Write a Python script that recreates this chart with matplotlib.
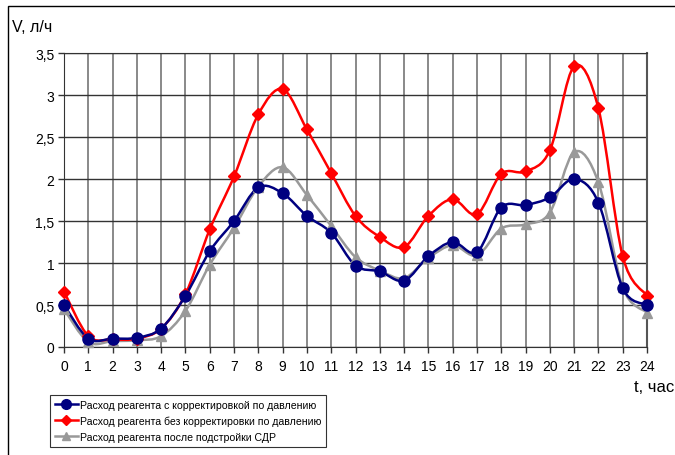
import matplotlib
matplotlib.use('Agg')
import matplotlib.pyplot as plt
from matplotlib.path import Path
from matplotlib.patches import PathPatch, Rectangle
from matplotlib.lines import Line2D
import numpy as np

plt.rcParams['font.family'] = ['Liberation Sans', 'DejaVu Sans']

hours = list(range(25))
blue = [0.5, 0.1, 0.1, 0.11, 0.22, 0.61, 1.14, 1.5, 1.9, 1.83, 1.56, 1.36, 0.97,
        0.9, 0.79, 1.08, 1.25, 1.13, 1.66, 1.69, 1.78, 2.0, 1.72, 0.7, 0.5]
red = [0.66, 0.13, 0.09, 0.1, 0.22, 0.63, 1.4, 2.03, 2.77, 3.07, 2.59, 2.07, 1.56,
       1.31, 1.19, 1.56, 1.76, 1.58, 2.06, 2.09, 2.34, 3.34, 2.84, 1.08, 0.61]
gray = [0.45, 0.06, 0.07, 0.08, 0.13, 0.43, 0.98, 1.42, 1.91, 2.14, 1.81, 1.44, 1.07,
        0.91, 0.82, 1.06, 1.21, 1.09, 1.41, 1.46, 1.6, 2.32, 1.96, 0.71, 0.41]
labels = ['Расход реагента с корректировкой по давлению',
          'Расход реагента без корректировки по давлению',
          'Расход реагента после подстройки СДР']
colors = ['#000080', '#ff0000', '#999999']
markers = ['o', 'D', '^']
msizes = [8, 6, 7]


def smooth_path(x, y):
    # excel-like smoothing: cubic bezier segments through the points
    x = np.asarray(x, float)
    y = np.asarray(y, float)
    verts = [(x[0], y[0])]
    codes = [Path.MOVETO]
    n = len(x)
    for i in range(n - 1):
        i0 = max(i - 1, 0)
        i3 = min(i + 2, n - 1)
        c1 = (x[i] + (x[i + 1] - x[i0]) / 6, y[i] + (y[i + 1] - y[i0]) / 6)
        c2 = (x[i + 1] - (x[i3] - x[i]) / 6, y[i + 1] - (y[i3] - y[i]) / 6)
        verts += [c1, c2, (x[i + 1], y[i + 1])]
        codes += [Path.CURVE4] * 3
    return Path(verts, codes)


fig = plt.figure(figsize=(6.75, 4.56), dpi=100)
ax = fig.add_axes([64 / 675, 108 / 456, 583 / 675, 294 / 456])

# outer chart frame
fig.patches.append(Rectangle((8 / 675, -0.1), 1.2, (449 / 456) + 0.1,
                             transform=fig.transFigure, fill=False,
                             edgecolor='black', linewidth=1))

for ys, c, m, ms in zip([blue, red, gray][::-1], colors[::-1], markers[::-1], msizes[::-1]):
    ax.add_patch(PathPatch(smooth_path(hours, ys), fill=False, edgecolor=c,
                           linewidth=1.8, zorder=3))
    ax.plot(hours, ys, linestyle='none', marker=m, markersize=ms, color=c,
            markeredgecolor=c, zorder=4, clip_on=False)

ax.set_xlim(0, 24)
ax.set_ylim(0, 3.5)
ax.set_xticks(hours)
yt = [0, 0.5, 1, 1.5, 2, 2.5, 3, 3.5]
ax.set_yticks(yt)
ax.set_yticklabels([('%g' % v).replace('.', ',') for v in yt])
ax.tick_params(labelsize=10, length=4, width=1, color='#333333', pad=3)
ax.tick_params(axis='x', pad=5)
ax.grid(axis='x', color='#808080', linewidth=1.3)
ax.grid(axis='y', color='#333333', linewidth=1)
ax.set_axisbelow(True)
for s in ['left', 'bottom', 'top']:
    ax.spines[s].set_color('#333333')
ax.spines['right'].set_color('#555555')
ax.spines['right'].set_linewidth(1.5)

fig.text(12 / 675, 1 - 28 / 456, 'V, л/ч', fontsize=11.5, va='center', ha='left')
fig.text(634 / 675, 1 - 387 / 456, 't, час', fontsize=12, va='center', ha='left')

handles = [Line2D([], [], color=c, marker=m, markersize=ms - 1, linewidth=1.8)
           for c, m, ms in zip(colors, markers, msizes)]
leg = fig.legend(handles, labels, loc='upper left',
                 bbox_to_anchor=(50 / 675, 1 - 396 / 456), fontsize=7.6,
                 frameon=True, fancybox=False, edgecolor='black',
                 handlelength=2.2, handletextpad=0.2, borderpad=0.45,
                 labelspacing=0.55, borderaxespad=0)
leg.get_frame().set_linewidth(0.8)

fig.savefig('out.png', dpi=100)
